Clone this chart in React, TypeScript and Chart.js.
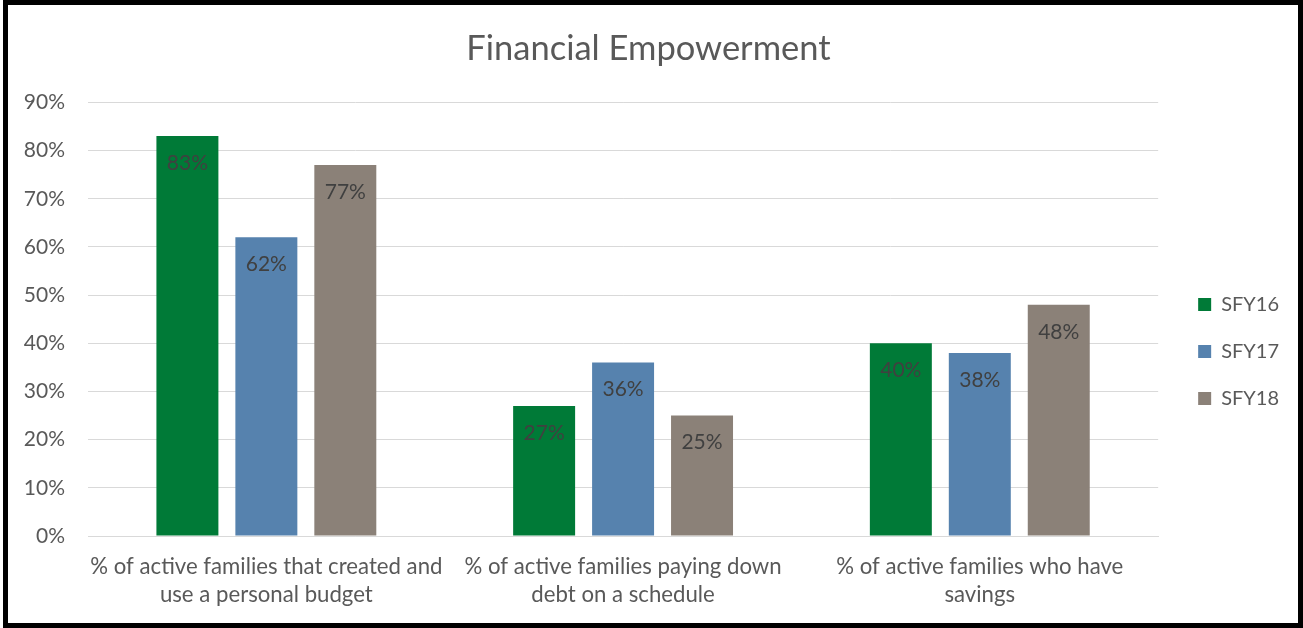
import React, { useEffect, useRef } from "react";
import { Chart, registerables } from "chart.js";

Chart.register(...registerables);

const categories: string[][] = [
  ["% of active families that created and", "use a personal budget"],
  ["% of active families paying down", "debt on a schedule"],
  ["% of active families who have", "savings"],
];
const seriesNames = ["SFY16", "SFY17", "SFY18"];
const sfy16 = [83, 27, 40];
const sfy17 = [62, 36, 38];
const sfy18 = [77, 25, 48];
const yTicks = [0, 10, 20, 30, 40, 50, 60, 70, 80, 90];

const colors = ["#007A37", "#5682AE", "#8B8178"];
const FONT = "Lato, 'Open Sans', sans-serif";

const dataLabelPlugin = {
  id: "dataLabels",
  afterDatasetsDraw(chart: any) {
    const ctx = chart.ctx;
    ctx.save();
    ctx.font = `21px ${FONT}`;
    ctx.fillStyle = "#404040";
    ctx.textAlign = "center";
    ctx.textBaseline = "middle";
    chart.data.datasets.forEach((ds: any, i: number) => {
      const meta = chart.getDatasetMeta(i);
      meta.data.forEach((el: any, j: number) => {
        ctx.fillText(`${ds.data[j]}%`, el.x, el.y + 27);
      });
    });
    ctx.restore();
  },
};

export default function App() {
  const ref = useRef<HTMLCanvasElement | null>(null);
  useEffect(() => {
    document.body.style.margin = "0";
    if (!ref.current) return;
    const chart = new Chart(ref.current, {
      type: "bar",
      data: {
        labels: categories,
        datasets: [sfy16, sfy17, sfy18].map((d, i) => ({
          label: seriesNames[i],
          data: d,
          backgroundColor: colors[i],
          borderWidth: 0,
          categoryPercentage: 0.664,
          barPercentage: 0.785,
        })),
      },
      options: {
        animation: false,
        responsive: true,
        maintainAspectRatio: false,
        layout: { padding: { left: 0, right: 9, top: 19, bottom: 0 } },
        plugins: {
          title: {
            display: true,
            text: "Financial Empowerment",
            color: "#595959",
            font: { family: FONT, size: 34.5, weight: "normal" },
            padding: { top: 4, bottom: 33 },
          },
          legend: {
            position: "right",
            title: {
              display: true,
              text: " ",
              font: { family: FONT, size: 20 },
              padding: { top: 16, bottom: 16 },
            },
            labels: {
              color: "#595959",
              font: { family: FONT, size: 20 },
              boxWidth: 13,
              boxHeight: 13,
              padding: 27,
            },
          },
          tooltip: { enabled: false },
        },
        scales: {
          x: {
            grid: { display: false, drawTicks: false },
            border: { display: true, color: "#d9d9d9", width: 1 },
            ticks: {
              color: "#595959",
              font: { family: FONT, size: 22.2, lineHeight: 1.27 },
              maxRotation: 0,
              autoSkip: false,
              padding: 17,
            },
            afterFit: (axis: any) => {
              axis.height = 87;
            },
          },
          y: {
            min: 0,
            max: 90,
            afterBuildTicks: (axis: any) => {
              axis.ticks = yTicks.map((v) => ({ value: v }));
            },
            afterFit: (axis: any) => {
              axis.width = 80;
            },
            grid: { color: "#d9d9d9", lineWidth: 1, drawTicks: false },
            border: { display: false },
            ticks: {
              color: "#595959",
              font: { family: FONT, size: 21 },
              padding: 23,
              callback: (v: any) => `${v}%`,
            },
          },
          gap: {
            type: "linear",
            position: "right",
            display: true,
            grid: { display: false, drawTicks: false },
            border: { display: false },
            ticks: { display: false },
            afterFit: (axis: any) => {
              axis.width = 13;
            },
          },
        },
      },
      plugins: [dataLabelPlugin],
    });
    return () => chart.destroy();
  }, []);
  return (
    <div
      style={{
        position: "absolute",
        left: 3,
        top: 0,
        width: 1300,
        height: 628,
        border: "5px solid #000",
        boxSizing: "border-box",
        background: "#fff",
      }}
    >
      <div style={{ position: "relative", width: 1290, height: 618 }}>
        <canvas ref={ref} />
      </div>
    </div>
  );
}
